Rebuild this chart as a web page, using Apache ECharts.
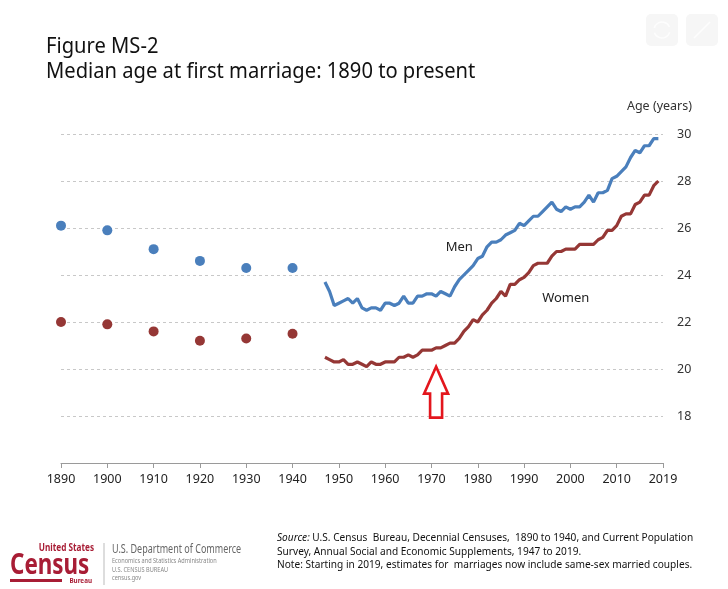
<!DOCTYPE html>
<html lang="en">
<head>
<meta charset="UTF-8">
<title>Median age at first marriage</title>
<script src="https://cdn.jsdelivr.net/npm/echarts@6/dist/echarts.min.js"></script>
<style>
  html, body { margin: 0; padding: 0; background: #fff; }
  #chart { width: 728px; height: 589px; }
</style>
</head>
<body>
<div id="chart"></div>
<script>
// census decennial points 1890-1940
var censusYears = [1890, 1900, 1910, 1920, 1930, 1940];
var censusMen   = [26.1, 25.9, 25.1, 24.6, 24.3, 24.3];
var censusWomen = [22.0, 21.9, 21.6, 21.2, 21.3, 21.5];

// CPS annual estimates 1947-2019
var cpsStart = 1947;
var cpsMen = [23.7, 23.3, 22.7, 22.8, 22.9, 23.0, 22.8, 23.0, 22.6, 22.5,
              22.6, 22.6, 22.5, 22.8, 22.8, 22.7, 22.8, 23.1, 22.8, 22.8,
              23.1, 23.1, 23.2, 23.2, 23.1, 23.3, 23.2, 23.1, 23.5, 23.8,
              24.0, 24.2, 24.4, 24.7, 24.8, 25.2, 25.4, 25.4, 25.5, 25.7,
              25.8, 25.9, 26.2, 26.1, 26.3, 26.5, 26.5, 26.7, 26.9, 27.1,
              26.8, 26.7, 26.9, 26.8, 26.9, 26.9, 27.1, 27.4, 27.1, 27.5,
              27.5, 27.6, 28.1, 28.2, 28.4, 28.6, 29.0, 29.3, 29.2, 29.5,
              29.5, 29.8, 29.8];
var cpsWomen = [20.5, 20.4, 20.3, 20.3, 20.4, 20.2, 20.2, 20.3, 20.2, 20.1,
                20.3, 20.2, 20.2, 20.3, 20.3, 20.3, 20.5, 20.5, 20.6, 20.5,
                20.6, 20.8, 20.8, 20.8, 20.9, 20.9, 21.0, 21.1, 21.1, 21.3,
                21.6, 21.8, 22.1, 22.0, 22.3, 22.5, 22.8, 23.0, 23.3, 23.1,
                23.6, 23.6, 23.8, 23.9, 24.1, 24.4, 24.5, 24.5, 24.5, 24.8,
                25.0, 25.0, 25.1, 25.1, 25.1, 25.3, 25.3, 25.3, 25.3, 25.5,
                25.6, 25.9, 25.9, 26.1, 26.5, 26.6, 26.6, 27.0, 27.1, 27.4,
                27.4, 27.8, 28.0];

var yTicks = [18, 20, 22, 24, 26, 28, 30];

// where the series names sit
var menLabelAt   = [1976, 25.2];
var womenLabelAt = [1999, 23.0];
var arrowTipAt   = [1971, 20.1];

var BLUE = '#4a7fbc';
var RED = '#953735';
var FONT = "'Noto Sans', 'Liberation Sans', sans-serif";

function pairs(years, vals) {
  return vals.map(function (v, i) { return [years[i], v]; });
}
function series(start, vals) {
  return vals.map(function (v, i) { return [start + i, v]; });
}

var chart = echarts.init(document.getElementById('chart'));

var option = {
  backgroundColor: '#fff',
  animation: false,
  textStyle: { fontFamily: FONT },
  grid: { left: 61, right: 65, top: 134, bottom: 126 },
  xAxis: {
    type: 'value',
    min: 1890,
    max: 2020,
    interval: 10,
    splitLine: { show: false },
    axisLine: { lineStyle: { color: '#9a9a9a', width: 1 } },
    axisTick: { length: 5, lineStyle: { color: '#9a9a9a' } },
    axisLabel: {
      color: '#222', fontSize: 12.5, margin: 10, fontFamily: FONT,
      formatter: function (v) { return v === 2020 ? '2019' : String(v); }
    }
  },
  yAxis: {
    type: 'value',
    position: 'right',
    min: 16,
    max: 30,
    interval: 2,
    axisLine: { show: false },
    axisTick: { show: false },
    axisLabel: {
      color: '#333', fontSize: 12.5, margin: 14, fontFamily: FONT,
      formatter: function (v) { return yTicks.indexOf(v) >= 0 ? String(v) : ''; }
    },
    splitLine: { lineStyle: { color: '#c8c8c8', type: [3, 3], width: 1 } }
  },
  series: [
    {
      name: 'Men census', type: 'scatter', symbolSize: 10,
      itemStyle: { color: BLUE, opacity: 1 }, data: pairs(censusYears, censusMen)
    },
    {
      name: 'Women census', type: 'scatter', symbolSize: 10,
      itemStyle: { color: RED, opacity: 1 }, data: pairs(censusYears, censusWomen)
    },
    {
      name: 'Men', type: 'line', showSymbol: false,
      lineStyle: { color: BLUE, width: 3.2 },
      data: series(cpsStart, cpsMen),
      markPoint: {
        symbolSize: 0,
        label: { show: true, formatter: 'Men', color: '#222', fontSize: 13, fontFamily: FONT },
        data: [{ coord: menLabelAt }]
      }
    },
    {
      name: 'Women', type: 'line', showSymbol: false,
      lineStyle: { color: RED, width: 3.2 },
      data: series(cpsStart, cpsWomen),
      markPoint: {
        symbolSize: 0,
        label: { show: true, formatter: 'Women', color: '#222', fontSize: 13, fontFamily: FONT },
        data: [{ coord: womenLabelAt }]
      }
    }
  ]
};

chart.setOption(option);

// annotation arrow and page furniture
var tip = chart.convertToPixel({ gridIndex: 0 }, arrowTipAt);
var tx = tip[0], ty = tip[1];
var arrowPts = [
  [tx, ty], [tx + 12, ty + 27], [tx + 6, ty + 27], [tx + 6, ty + 51],
  [tx - 6, ty + 51], [tx - 6, ty + 27], [tx - 12, ty + 27]
];

// condensed text helper (the original face is narrow)
function txt(x, y, text, font, fill, sx, align) {
  return {
    type: 'text', x: x, y: y, scaleX: sx,
    style: { text: text, font: font, fill: fill, align: align || 'left', verticalAlign: 'middle' }
  };
}

var CRED = '#a81d35';
var graphics = [
  txt(46, 47, 'Figure MS-2', '21px ' + FONT, '#111', 0.96),
  txt(46, 72, 'Median age at first marriage: 1890 to present', '21px ' + FONT, '#111', 0.96),
  {
    type: 'polygon', shape: { points: arrowPts },
    style: { fill: '#fff', stroke: '#e3161d', lineWidth: 2.6 }
  },
  txt(692, 106, 'Age (years)', '12.5px ' + FONT, '#333', 1, 'right'),
  // toolbar ghosts top right
  { type: 'rect', shape: { x: 646, y: 14, width: 32, height: 32, r: 5 }, style: { fill: '#f6f6f6' } },
  { type: 'rect', shape: { x: 686, y: 14, width: 32, height: 32, r: 5 }, style: { fill: '#f6f6f6' } },
  { type: 'arc', shape: { cx: 662, cy: 30, r: 8, startAngle: 0.3, endAngle: 2.8 }, style: { stroke: '#fdfdfd', lineWidth: 1.5, fill: null } },
  { type: 'arc', shape: { cx: 662, cy: 30, r: 8, startAngle: 3.4, endAngle: 5.9 }, style: { stroke: '#fdfdfd', lineWidth: 1.5, fill: null } },
  { type: 'line', shape: { x1: 694, y1: 38, x2: 710, y2: 22 }, style: { stroke: '#fdfdfd', lineWidth: 1.5 } },
  // source note
  {
    type: 'text', x: 277, y: 538, scaleX: 0.88,
    style: {
      text: '{i|Source:} U.S. Census  Bureau, Decennial Censuses,  1890 to 1940, and Current Population',
      fill: '#111', font: '11.5px ' + FONT, verticalAlign: 'middle',
      rich: { i: { fontStyle: 'italic', fontSize: 11.5, fontFamily: FONT, fill: '#111' } }
    }
  },
  txt(277, 552, 'Survey, Annual Social and Economic Supplements, 1947 to 2019.', '11.5px ' + FONT, '#111', 0.88),
  txt(277, 565, 'Note: Starting in 2019, estimates for  marriages now include same-sex married couples.', '11.5px ' + FONT, '#111', 0.88),
  // census logo
  txt(94, 548, 'United States', 'bold 10px ' + FONT, CRED, 0.82, 'right'),
  txt(10, 566, 'Census', 'bold 28px ' + FONT, CRED, 0.8),
  { type: 'rect', shape: { x: 10, y: 579, width: 52, height: 3 }, style: { fill: CRED } },
  txt(92, 580.5, 'Bureau', 'bold 7px ' + FONT, CRED, 0.9, 'right'),
  { type: 'line', shape: { x1: 104, y1: 543, x2: 104, y2: 585 }, style: { stroke: '#bbb', lineWidth: 1 } },
  txt(112, 549, 'U.S. Department of Commerce', '12.5px ' + FONT, '#666', 0.72),
  txt(112, 561, 'Economics and Statistics Administration', '7px ' + FONT, '#888', 0.8),
  txt(112, 569.5, 'U.S. CENSUS BUREAU', '7px ' + FONT, '#888', 0.8),
  txt(112, 578, 'census.gov', '7px ' + FONT, '#888', 0.8)
];

chart.setOption({ graphic: graphics });
</script>
</body>
</html>
